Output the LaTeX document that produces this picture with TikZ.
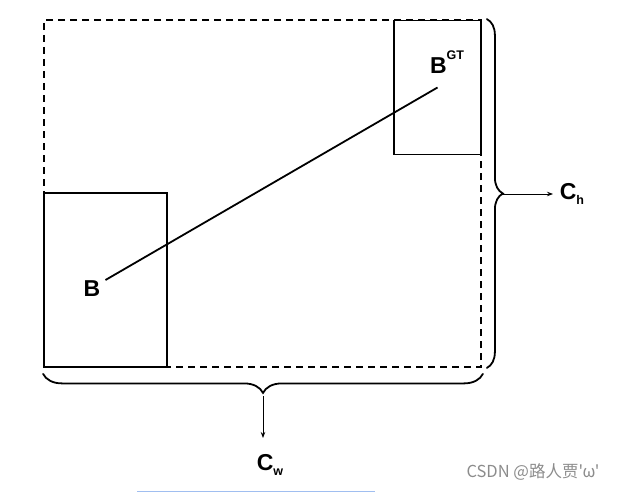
\documentclass[tikz,border=0pt]{standalone}
\usepackage{fontspec}
\setmainfont{Liberation Sans}
\newfontfamily\cjkfont{Noto Sans CJK SC}
\usetikzlibrary{arrows.meta,decorations.pathreplacing}
\definecolor{figgray}{RGB}{140,140,140}
\definecolor{figblue}{RGB}{160,190,240}
\newcommand{\bigtxt}{\fontsize{23}{23}\selectfont\bfseries}
\newcommand{\smalltxt}{\fontsize{12.5}{12.5}\selectfont\bfseries}
\tikzset{
  box/.style={draw,line width=1.8pt,inner sep=0pt},
  frame/.style={draw,line width=1.8pt,dash pattern=on 7pt off 5pt,inner sep=0pt},
  bracebar/.style={decorate,line width=1.8pt,line cap=round},
  arr/.style={line width=0.9pt,-{Stealth[length=6pt,width=4.5pt]}}
}

\begin{document}
\begin{tikzpicture}[x=1pt,y=-1pt]
  \useasboundingbox (0,0) rectangle (618,495);
  % outer dashed box and the two boxes
  \node[frame,minimum width=437pt,minimum height=347pt](outer) at (262.5,193.5){};
  \node[box,minimum width=123pt,minimum height=174pt](bbox) at (105.5,280){};
  \node[box,minimum width=87pt,minimum height=134pt](gtbox) at (437.5,87.5){};
  \draw[line width=1.8pt](bbox.center)--(gtbox.center);
  \node[font=\bigtxt](blab) at (92,289){B};
  \node[font=\bigtxt](gtlab) at (447,62){B\raisebox{1.1ex}{\smalltxt GT}};
  % braces
  \draw[bracebar,decoration={brace,amplitude=16pt}]([xshift=5pt]outer.north east)--([xshift=5pt]outer.south east);
  \draw[bracebar,decoration={brace,amplitude=19pt}]([xshift=1pt,yshift=-6pt]outer.south east)--([yshift=-6pt]outer.south west);
  \coordinate (hbrace) at (502,194);
  \coordinate (htip) at (553,194);
  \coordinate (wbrace) at (263,396);
  \coordinate (wtip) at (263,438);
  \node[font=\bigtxt](ch) at (572,194){C\raisebox{-0.35ex}{\smalltxt h}};
  \node[font=\bigtxt](cw) at (270,465){C\raisebox{-0.35ex}{\smalltxt w}};
  \draw[arr](hbrace)--(htip);
  \draw[arr](wbrace)--(wtip);
  % screenshot leftovers
  \node[text=figgray,font=\cjkfont\fontsize{16.5}{16.5}\selectfont](mark) at (533,472){CSDN @路人贾'ω'};
  \draw[figblue,line width=1pt](137,491)--(375,491);
\end{tikzpicture}
\end{document}
